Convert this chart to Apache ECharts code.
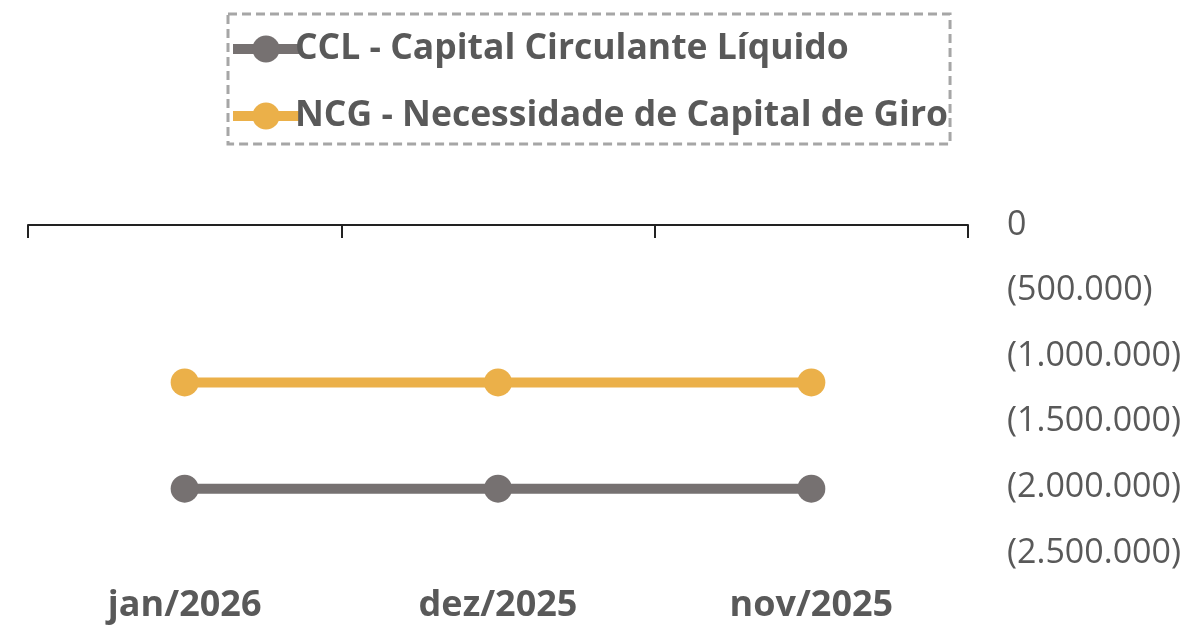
<!DOCTYPE html>
<html>
<head>
    <meta charset="utf-8">
    <title>CCL x NCG</title>
    <script src="https://cdn.jsdelivr.net/npm/echarts@6/dist/echarts.min.js"></script>
    <style>
        html, body { margin: 0; padding: 0; background: #fff; }
    </style>
</head>
<body>
    <div id="main" style="width: 1191px;height:628px;"></div>
    <script type="text/javascript">
        // dados
        var meses = ['jan/2026', 'dez/2025', 'nov/2025'];
        var ccl = [-2010000, -2010000, -2010000];
        var ncg = [-1200000, -1200000, -1200000];
        var nomeCCL = 'CCL - Capital Circulante Líquido';
        var nomeNCG = 'NCG - Necessidade de Capital de Giro';

        var fonte = '"Open Sans", "Noto Sans", sans-serif';
        var cinzaTexto = '#595959';

        function formatar(v) {
            var s = Math.abs(v).toString().replace(/\B(?=(\d{3})+(?!\d))/g, '.');
            return v < 0 ? '(' + s + ')' : s;
        }

        var myChart = echarts.init(document.getElementById('main'));
        var option = {
            animation: false,
            legend: {
                orient: 'vertical',
                left: 228,
                top: 14,
                padding: [17, 2, 10, 0],
                itemGap: 31,
                itemWidth: 66,
                itemHeight: 34,
                borderColor: '#a6a6a6',
                borderWidth: 3,
                borderType: [9, 5],
                lineStyle: { width: 10 },
                textStyle: {
                    color: cinzaTexto,
                    fontFamily: fonte,
                    fontSize: 35.5,
                    fontWeight: 'bold',
                    padding: [0, 0, 0, -9]
                },
                data: [nomeCCL, nomeNCG]
            },
            grid: {
                left: 28,
                right: 223,
                top: 225,
                bottom: 75
            },
            xAxis: [{
                type: 'category',
                data: meses,
                position: 'top',
                boundaryGap: true,
                axisLine: { show: true, lineStyle: { color: '#222', width: 2 } },
                axisTick: { show: true, inside: true, length: 13, lineStyle: { color: '#222', width: 2 } },
                axisLabel: { show: false },
                splitLine: { show: false }
            }, {
                type: 'category',
                data: meses,
                position: 'bottom',
                boundaryGap: true,
                axisLine: { show: false },
                axisTick: { show: false },
                axisLabel: {
                    margin: 35,
                    color: cinzaTexto,
                    fontFamily: fonte,
                    fontSize: 36,
                    fontWeight: 'bold'
                }
            }],
            yAxis: {
                type: 'value',
                position: 'right',
                min: -2500000,
                max: 0,
                interval: 500000,
                axisLine: { show: false },
                axisTick: { show: false },
                splitLine: { show: false },
                axisLabel: {
                    margin: 39,
                    color: cinzaTexto,
                    fontFamily: fonte,
                    fontSize: 34,
                    formatter: formatar
                }
            },
            series: [{
                name: nomeCCL,
                type: 'line',
                data: ccl,
                symbol: 'circle',
                symbolSize: 28,
                itemStyle: { color: '#767171' },
                lineStyle: { color: '#767171', width: 10 }
            }, {
                name: nomeNCG,
                type: 'line',
                data: ncg,
                symbol: 'circle',
                symbolSize: 28,
                itemStyle: { color: '#ebb049' },
                lineStyle: { color: '#ebb049', width: 10 }
            }]
        };
        myChart.setOption(option);
    </script>
</body>
</html>
